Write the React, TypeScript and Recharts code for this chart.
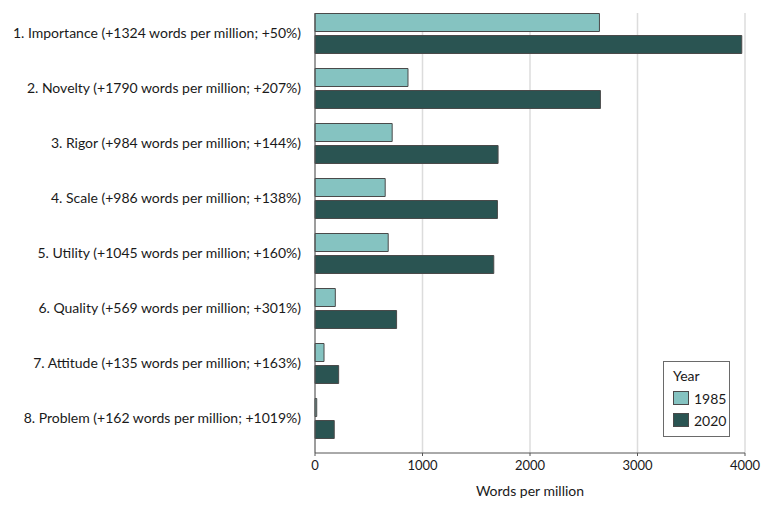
import React from "react";
import { BarChart, Bar, XAxis, YAxis, CartesianGrid, Legend } from "recharts";

const categories = [
  "1. Importance (+1324 words per million; +50%)",
  "2. Novelty (+1790 words per million; +207%)",
  "3. Rigor (+984 words per million; +144%)",
  "4. Scale (+986 words per million; +138%)",
  "5. Utility (+1045 words per million; +160%)",
  "6. Quality (+569 words per million; +301%)",
  "7. Attitude (+135 words per million; +163%)",
  "8. Problem (+162 words per million; +1019%)",
];
const values1985 = [2646, 865, 718, 653, 681, 189, 84, 16];
const values2020 = [3970, 2655, 1703, 1697, 1663, 759, 220, 179];
const xTicks = [0, 1000, 2000, 3000, 4000];

const data = categories.map((c, i) => ({ name: c, y1985: values1985[i], y2020: values2020[i] }));

const FONT = "'Lato', 'Liberation Sans', sans-serif";
const C1985 = "#85C3C1";
const C2020 = "#2A5452";
const STROKE = "#4a4a4a";

const LegendBox = () => (
  <div
    style={{
      border: "1px solid #6a6a6a",
      width: 67,
      height: 76,
      boxSizing: "border-box",
      padding: "6px 0 0 9px",
      fontFamily: FONT,
      fontSize: 14,
      color: "#1a1a1a",
      background: "#fff",
      textAlign: "left",
    }}
  >
    <div style={{ lineHeight: "16px", marginBottom: 3 }}>Year</div>
    {[
      ["1985", C1985],
      ["2020", C2020],
    ].map(([label, col]) => (
      <div key={label} style={{ display: "flex", alignItems: "center", height: 22 }}>
        <span
          style={{
            display: "inline-block",
            width: 16,
            height: 14,
            background: col,
            border: `1px solid ${STROKE}`,
            boxSizing: "border-box",
            marginRight: 5,
          }}
        />
        <span>{label}</span>
      </div>
    ))}
  </div>
);

export default function App() {
  return (
    <div style={{ position: "absolute", left: 0, top: 0, background: "#fff" }}>
      <BarChart
        width={780}
        height={508}
        data={data}
        layout="vertical"
        margin={{ top: 13, right: 35, bottom: 0, left: 0 }}
        barSize={18}
        barGap={4}
      >
        <CartesianGrid horizontal={false} stroke="#dcdcdc" strokeWidth={1.5} />
        <XAxis
          type="number"
          domain={[0, 4000]}
          ticks={xTicks}
          height={55}
          tickSize={3}
          tickMargin={5}
          axisLine={{ stroke: "#555" }}
          tickLine={{ stroke: "#555" }}
          tick={{ fill: "#1a1a1a", fontSize: 13, fontFamily: FONT }}
          label={{
            value: "Words per million",
            position: "insideBottom",
            offset: 12,
            style: { fill: "#1a1a1a", fontSize: 14, fontFamily: FONT },
          }}
        />
        <YAxis
          type="category"
          dataKey="name"
          width={315}
          padding={{ top: -7.5, bottom: 7.5 }}
          tickLine={false}
          tickMargin={8}
          axisLine={{ stroke: "#555" }}
          tick={{ fill: "#1a1a1a", fontSize: 14, fontFamily: FONT }}
          interval={0}
        />
        <Legend
          layout="horizontal"
          verticalAlign="middle"
          align="center"
          content={<LegendBox />}
          wrapperStyle={{ position: "absolute", left: 663, top: 361, width: 67 }}
        />
        <Bar dataKey="y1985" name="1985" fill={C1985} stroke={STROKE} strokeWidth={1} isAnimationActive={false} />
        <Bar dataKey="y2020" name="2020" fill={C2020} stroke={STROKE} strokeWidth={1} isAnimationActive={false} />
      </BarChart>
    </div>
  );
}
